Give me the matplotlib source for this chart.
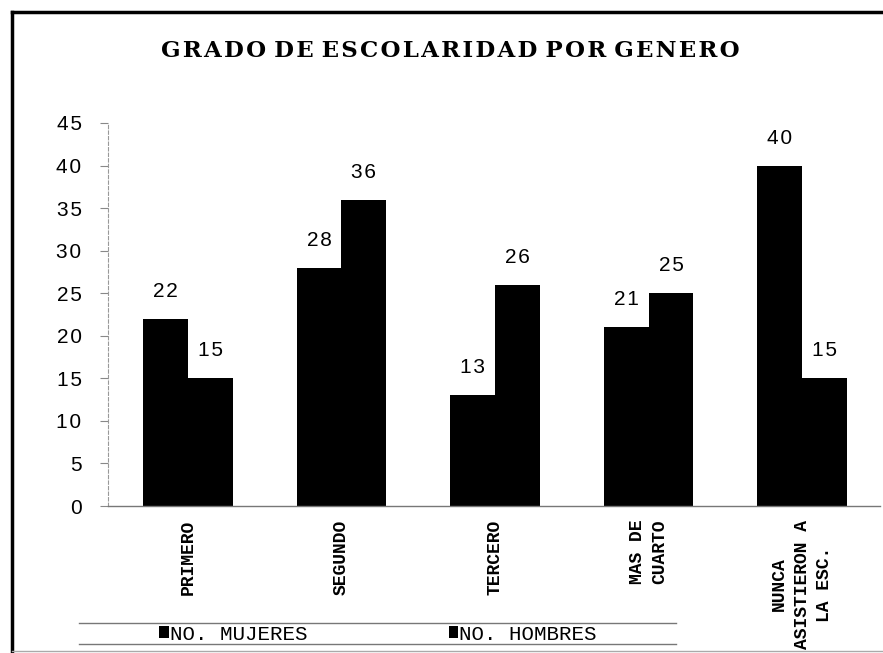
import matplotlib
matplotlib.use("Agg")
import matplotlib.pyplot as plt
import numpy as np
from matplotlib.lines import Line2D

# ---- data ----
categories = ["PRIMERO", "SEGUNDO", "TERCERO", "MAS DE\nCUARTO", "NUNCA\nASISTIERON A\nLA ESC."]
mujeres = [22, 28, 13, 21, 40]
hombres = [15, 36, 26, 25, 15]
series_names = ["NO. MUJERES", "NO. HOMBRES"]
yticks = [0, 5, 10, 15, 20, 25, 30, 35, 40, 45]
title = "GRADO DE ESCOLARIDAD POR GENERO"

W, H = 883, 653
fig = plt.figure(figsize=(W / 100, H / 100), dpi=100)
fig.patch.set_facecolor("white")

def fx(px):
    return px / W

def fy(py):
    return 1 - py / H

ax = fig.add_axes([fx(108), fy(506), fx(880) - fx(108), fy(123) - fy(506)])

HS = "\u200a"  # hair space for letter spacing
def spaced(s, sep=HS):
    return sep.join(list(str(s)))

x = np.arange(len(categories))
w = 0.293
b1 = ax.bar(x - w / 2, mujeres, w, color="black", label=series_names[0])
b2 = ax.bar(x + w / 2, hombres, w, color="black", label=series_names[1])

numfam = ["Liberation Sans", "DejaVu Sans"]
numsize = 15
ax.bar_label(b1, labels=[spaced(v) for v in mujeres], padding=13, fontfamily=numfam, fontsize=numsize)
ax.bar_label(b2, labels=[spaced(v) for v in hombres], padding=13, fontfamily=numfam, fontsize=numsize)

ax.set_xlim(-0.521, 4.508)
ax.set_ylim(0, 45)
ax.set_yticks(yticks)
ax.set_yticklabels([spaced(t) for t in yticks], fontfamily=numfam, fontsize=numsize)
ax.tick_params(axis="y", length=6, color="#888888", width=0.8, pad=13)

ax.set_xticks(x)
ax.set_xticklabels(categories, rotation=90, fontfamily=["Liberation Mono", "DejaVu Sans Mono"],
                   fontweight="bold", fontsize=13, va="top", ha="center",
                   multialignment="center", linespacing=1.4)
ax.tick_params(axis="x", length=0, pad=10)

for s in ["top", "right"]:
    ax.spines[s].set_visible(False)
ax.spines["left"].set_color("#999999")
ax.spines["left"].set_linewidth(0.8)
ax.spines["left"].set_linestyle((0, (3, 2)))
ax.spines["bottom"].set_color("#777777")
ax.spines["bottom"].set_linewidth(1.0)

# title
words = title.split(" ")
title_txt = " ".join(spaced(wd) for wd in words)
fig.text(fx(450), fy(51), title_txt, ha="center", va="center",
         fontfamily=["DejaVu Serif"], fontweight="bold", fontsize=16.5)

# legend
leg = ax.legend(handles=[b1, b2], labels=series_names, ncol=2, loc="center",
                bbox_to_anchor=(fx(378), fy(634)), bbox_transform=fig.transFigure,
                frameon=False, handlelength=0.45, handleheight=0.45, handletextpad=0.05,
                columnspacing=6.8, borderpad=0,
                prop=dict(family=["Liberation Mono", "DejaVu Sans Mono"], size=15))

# legend rules
for yy in (623, 644):
    fig.add_artist(Line2D([fx(79), fx(676)], [fy(yy), fy(yy)], transform=fig.transFigure,
                          color="#777777", lw=1.0))

# outer frame
fig.add_artist(Line2D([fx(12), fx(12)], [fy(12), fy(653)], transform=fig.transFigure, color="black", lw=2.5))
fig.add_artist(Line2D([fx(12), fx(883)], [fy(12), fy(12)], transform=fig.transFigure, color="black", lw=2.5))
fig.add_artist(Line2D([fx(12), fx(883)], [fy(651), fy(651)], transform=fig.transFigure, color="#aaaaaa", lw=1.0))

fig.savefig("out.png", dpi=100, facecolor="white")
